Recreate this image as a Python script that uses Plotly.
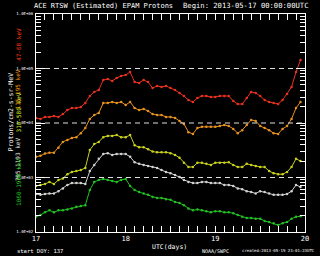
import plotly.graph_objects as go

days = [17.00 + 0.05 * i for i in range(60)]

red = [12400, 11900, 12900, 12900, 13400, 12900, 14600, 17300, 18800, 18800,
       19700, 23300, 31300, 37100, 40300, 61500, 64000, 59000, 67000, 73000,
       76000, 86000, 56500, 54200, 61500, 56500, 43900, 47800, 45800, 47800,
       43900, 40300, 35500, 31300, 26400, 24300, 28800, 31300, 31300, 30000,
       30000, 31300, 31300, 31300, 25300, 22300, 22300, 28800, 37100, 35500,
       31300, 26400, 24300, 23300, 22300, 26400, 34000, 45800, 86000, 143000]

orange = [2400, 2500, 2750, 2850, 2850, 3500, 4500, 4900, 5300, 5500,
          6500, 8100, 11900, 14000, 15300, 23300, 23300, 24300, 23300, 24300,
          21400, 24300, 18800, 17300, 18100, 16600, 14600, 14000, 14000, 12900,
          12900, 12400, 10900, 9600, 6800, 6300, 8100, 8500, 8500, 8500,
          8500, 8800, 9200, 8800, 7800, 6500, 7400, 9200, 11400, 10900,
          8800, 8100, 7400, 6500, 6300, 7800, 8800, 11900, 18800, 24300]

yellow = [700, 730, 760, 830, 760, 900, 960, 1150, 1260, 1310,
          1370, 1500, 3200, 4100, 4500, 5500, 5800, 5800, 6000, 5500,
          5500, 6000, 3900, 3600, 3600, 3300, 3000, 2900, 2900, 2900,
          2800, 2600, 2300, 1860, 1560, 1560, 1860, 1860, 1780, 1700,
          1860, 1860, 1860, 1900, 1700, 1560, 1560, 1780, 1700, 1630,
          1560, 1560, 1310, 1200, 1150, 1150, 1260, 1560, 2200, 2000]

white = [500, 480, 500, 510, 510, 560, 630, 730, 790, 790,
         790, 760, 1310, 1700, 2200, 2700, 2800, 2600, 2700, 2700,
         2700, 2400, 1900, 1780, 1700, 1630, 1560, 1500, 1370, 1260,
         1200, 1110, 1020, 900, 830, 790, 790, 830, 830, 790,
         790, 790, 730, 730, 700, 630, 610, 560, 540, 510,
         560, 540, 510, 480, 480, 480, 500, 560, 730, 670]

green = [190, 205, 230, 250, 230, 250, 250, 260, 270, 290,
         300, 310, 590, 830, 900, 940, 900, 860, 830, 900,
         940, 700, 590, 540, 510, 480, 440, 420, 420, 400,
         390, 355, 340, 310, 270, 250, 260, 250, 240, 230,
         240, 240, 230, 230, 220, 205, 190, 180, 180, 175,
         175, 160, 152, 145, 134, 145, 152, 175, 190, 195]

ref_levels = [1e3, 1e4, 1e5]
ytick_vals = [1e2, 1e3, 1e4, 1e5, 1e6]
ytick_text = ["1.0E+02", "1.0E+03", "1.0E+04", "1.0E+05", "1.0E+06"]
xtick_vals = [17, 18, 19, 20]
xtick_text = ["17", "18", "19", "20"]

# all log ticks (1..9 per decade) for the short tick marks
yall_vals = [m * d for d in (1e2, 1e3, 1e4, 1e5) for m in range(1, 10)] + [1e6]
yall_text = [ytick_text[ytick_vals.index(v)] if v in ytick_vals else "" for v in yall_vals]

series = [
    ("47-68 keV", red, "#e8321e", "#ff3a10", 0.945),
    ("115-195 keV", orange, "#e8921e", "#ff9a10", 0.757),
    ("310-580 keV", yellow, "#c8d21e", "#d8f020", 0.550),
    ("795-1193 keV", white, "#d2d2d2", "#e0e0e0", 0.335),
    ("1060-1900 keV", green, "#22c022", "#22d022", 0.110),
]

fig = go.Figure()
for lv in ref_levels:
    fig.add_trace(go.Scatter(x=[17, 20], y=[lv, lv], mode="lines", yaxis="y2",
                             line=dict(color="#e0e0e0", width=1, dash="5px,4px"),
                             hoverinfo="skip", showlegend=False))
for name, vals, col, _, _ in series:
    fig.add_trace(go.Scatter(x=days, y=vals, mode="lines+markers", name=name,
                             line=dict(color=col, width=1),
                             marker=dict(color=col, size=2.5),
                             showlegend=False))

mono = "DejaVu Sans Mono"
ann = []
for name, _, _, tcol, yc in series:
    ann.append(dict(x=-0.086, y=yc, xref="paper", yref="paper", text=name,
                    textangle=-90, showarrow=False,
                    font=dict(family=mono, size=6, color=tcol)))
ann.append(dict(x=-0.115, y=0.55, xref="paper", yref="paper",
                text="Protons/cm2-s-sr-MeV", textangle=-90, showarrow=False,
                font=dict(family=mono, size=6.5, color="white")))
ann.append(dict(x=-0.015, y=1.037, xref="paper", yref="paper", xanchor="left",
                yanchor="middle", text="ACE RTSW (Estimated) EPAM Protons",
                showarrow=False, font=dict(family=mono, size=7, color="white")))
ann.append(dict(x=0.538, y=1.037, xref="paper", yref="paper", xanchor="left",
                yanchor="middle", text="Begin: 2013-05-17 00:00:00UTC",
                showarrow=False, font=dict(family=mono, size=7.2, color="white")))
ann.append(dict(x=-0.077, y=-0.087, xref="paper", yref="paper", xanchor="left",
                yanchor="middle", text="start DOY: 137", showarrow=False,
                font=dict(family=mono, size=5.5, color="white")))
ann.append(dict(x=0.498, y=-0.069, xref="paper", yref="paper",
                yanchor="middle", text="UTC(days)", showarrow=False,
                font=dict(family=mono, size=6.5, color="white")))
ann.append(dict(x=0.608, y=-0.087, xref="paper", yref="paper", xanchor="left",
                yanchor="middle", text="NOAA/SWPC", showarrow=False,
                font=dict(family=mono, size=5, color="white")))
ann.append(dict(x=0.758, y=-0.087, xref="paper", yref="paper", xanchor="left",
                yanchor="middle", text="created:2013-05-19 23:01:23UTC",
                showarrow=False, font=dict(family=mono, size=4, color="white")))

axis_common = dict(showline=True, linecolor="white", linewidth=1,
                   mirror="allticks", ticks="inside", tickcolor="white",
                   showgrid=False, zeroline=False)

fig.update_layout(
    width=320, height=256,
    margin=dict(l=36, r=11, t=14, b=24),
    paper_bgcolor="black", plot_bgcolor="black",
    annotations=ann,
    xaxis=dict(range=[17, 20], tickvals=xtick_vals, ticktext=xtick_text,
               ticklen=6, tickwidth=1,
               minor=dict(dtick=0.1, ticks="inside", ticklen=3, tickcolor="white"),
               tickfont=dict(family=mono, size=7, color="white"),
               **axis_common),
    yaxis=dict(type="log", range=[2, 6], tickvals=yall_vals, ticktext=yall_text,
               ticklen=5, tickwidth=1, ticklabelstandoff=1,
               tickfont=dict(family=mono, size=4, color="white"),
               **axis_common),
    yaxis2=dict(type="log", range=[2, 6], overlaying="y", side="left", anchor="x",
                tickvals=ytick_vals, ticktext=["", "", "", "", ""],
                ticklen=9, tickwidth=1, **axis_common),
)

fig.write_html("out.html")
